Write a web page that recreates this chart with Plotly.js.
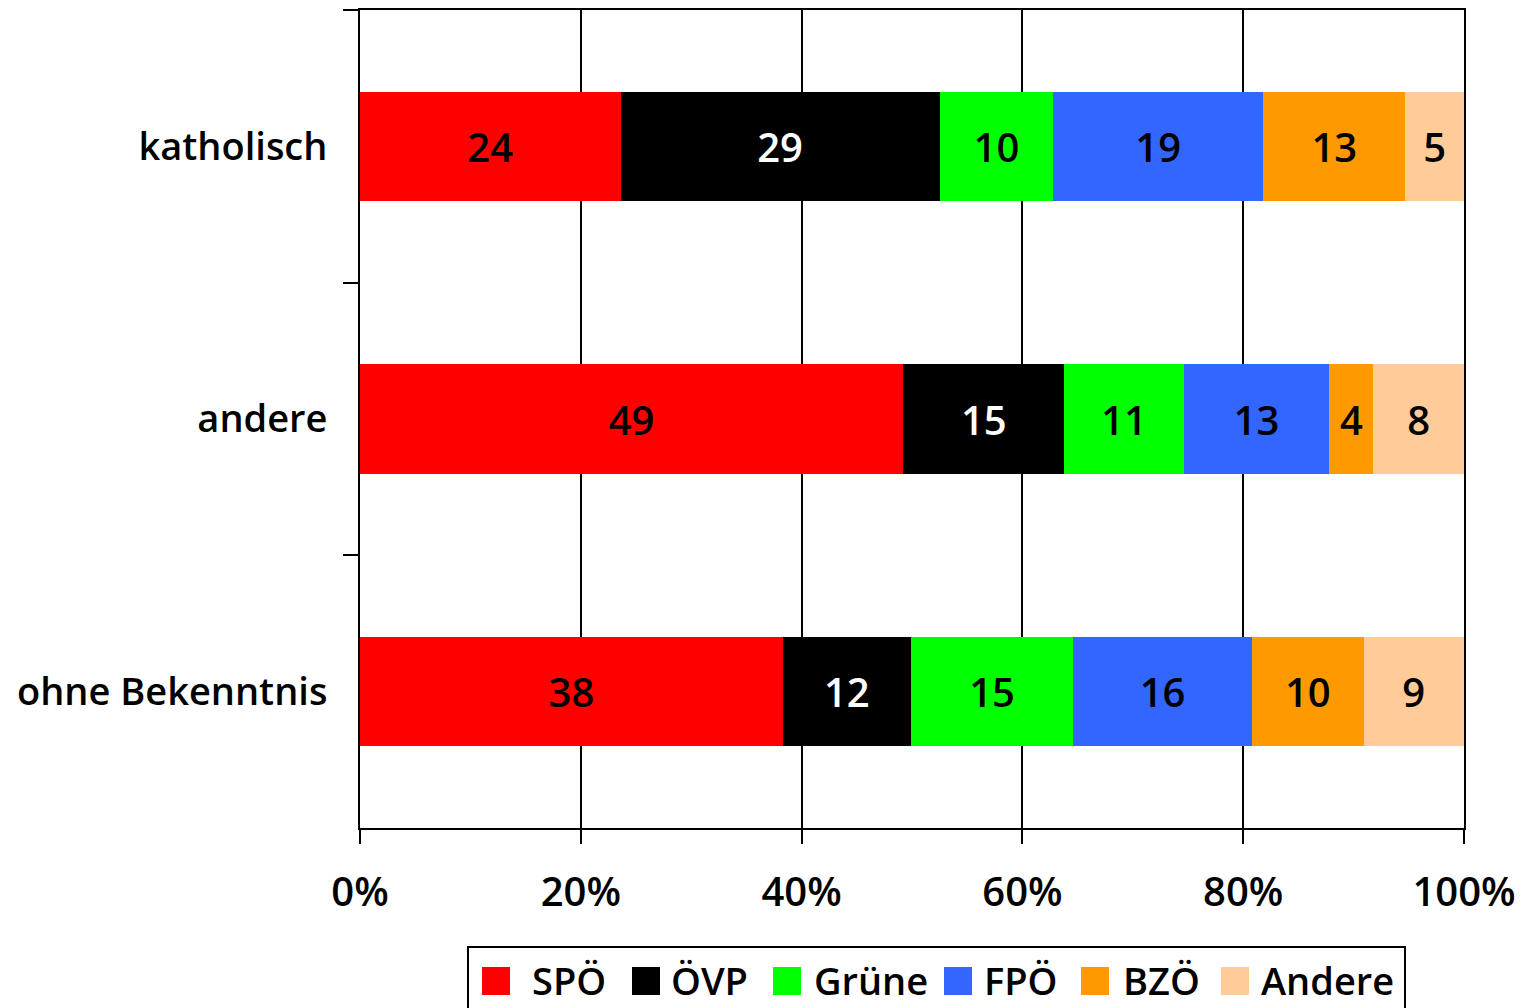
<!DOCTYPE html>
<html>
<head>
<meta charset="utf-8">
<script src="https://cdn.plot.ly/plotly-3.0.1.min.js"></script>
<style>html,body{margin:0;padding:0;background:#fff;}#chart{width:1534px;height:1008px;}</style>
</head>
<body>
<div id="chart"></div>
<script>
const categories = ['katholisch', 'andere', 'ohne Bekenntnis'];
const parties = ['SPÖ', 'ÖVP', 'Grüne', 'FPÖ', 'BZÖ', 'Andere'];
const partyColors = ['#FF0000', '#000000', '#00FF00', '#3366FF', '#FF9900', '#FFCC99'];
const labelColors = ['#000000', '#FFFFFF', '#000000', '#000000', '#000000', '#000000'];
const spo    = [23.6, 49.2, 38.3];
const ovp    = [28.9, 14.6, 11.6];
const gruene = [10.3, 10.8, 14.7];
const fpo    = [19.0, 13.2, 16.2];
const bzo    = [12.9, 4.0, 10.1];
const andere = [5.3, 8.2, 9.1];
const xTickVals = [0, 20, 40, 60, 80, 100];
const xTickText = ['0%', '20%', '40%', '60%', '80%', '100%'];

const series = [spo, ovp, gruene, fpo, bzo, andere];
const FONT = 'Open Sans, Liberation Sans, sans-serif';

const traces = series.map((vals, i) => ({
  type: 'bar',
  orientation: 'h',
  name: parties[i],
  y: categories,
  x: vals,
  marker: {color: partyColors[i], line: {width: 0}},
  text: vals.map(v => String(Math.round(v))),
  textposition: 'inside',
  insidetextanchor: 'middle',
  textangle: 0,
  constraintext: 'none',
  textfont: {family: FONT, size: 40, weight: 600, color: labelColors[i]},
  hoverinfo: 'name+x',
  showlegend: false
}));

// plot-area geometry (pixels) for the custom legend
const W = 1534, H = 1008;
const M = {l: 360, r: 70, t: 10, b: 180};
const pw = W - M.l - M.r, ph = H - M.t - M.b;
const px = x => (x - M.l) / pw;
const py = y => (H - M.b - y) / ph;

const legendSwatchX = [482, 632, 773, 944, 1081, 1221];
const legendTextX   = [530, 669, 812, 982, 1121, 1259];
const shapes = [{
  type: 'rect', xref: 'paper', yref: 'paper',
  x0: px(468), x1: px(1405), y0: py(947), y1: py(1020),
  line: {color: '#000', width: 2}, fillcolor: 'rgba(0,0,0,0)'
}];
const annotations = [];
parties.forEach((p, i) => {
  shapes.push({
    type: 'rect', xref: 'paper', yref: 'paper',
    x0: px(legendSwatchX[i]), x1: px(legendSwatchX[i] + 28),
    y0: py(995), y1: py(967),
    line: {width: 0}, fillcolor: partyColors[i]
  });
  annotations.push({
    xref: 'paper', yref: 'paper', x: px(legendTextX[i]), y: py(980),
    xanchor: 'left', yanchor: 'middle', showarrow: false,
    text: p, font: {family: FONT, size: 38, weight: 600, color: '#000'}
  });
});

const layout = {
  width: W, height: H,
  margin: M,
  paper_bgcolor: '#fff', plot_bgcolor: '#fff',
  barmode: 'stack',
  bargap: 0.6,
  showlegend: false,
  font: {family: FONT, size: 40, color: '#000', weight: 600},
  xaxis: {
    range: [0, 100],
    tickvals: xTickVals, ticktext: xTickText,
    showgrid: true, gridcolor: '#000', gridwidth: 2,
    showline: true, linecolor: '#000', linewidth: 2, mirror: true,
    ticks: 'outside', ticklen: 14, tickwidth: 2, tickcolor: '#000',
    ticklabelstandoff: 14,
    tickfont: {family: FONT, size: 40, weight: 600},
    zeroline: false, fixedrange: true
  },
  yaxis: {
    type: 'category',
    categoryorder: 'array', categoryarray: categories,
    autorange: 'reversed',
    showgrid: false,
    showline: true, linecolor: '#000', linewidth: 2, mirror: true,
    ticks: 'outside', tickson: 'boundaries', ticklen: 15, tickwidth: 2, tickcolor: '#000',
    ticklabelstandoff: 23,
    tickfont: {family: FONT, size: 38, weight: 600},
    zeroline: false, fixedrange: true
  },
  shapes: shapes,
  annotations: annotations
};

Plotly.newPlot('chart', traces, layout, {displayModeBar: false, staticPlot: true});
</script>
</body>
</html>
